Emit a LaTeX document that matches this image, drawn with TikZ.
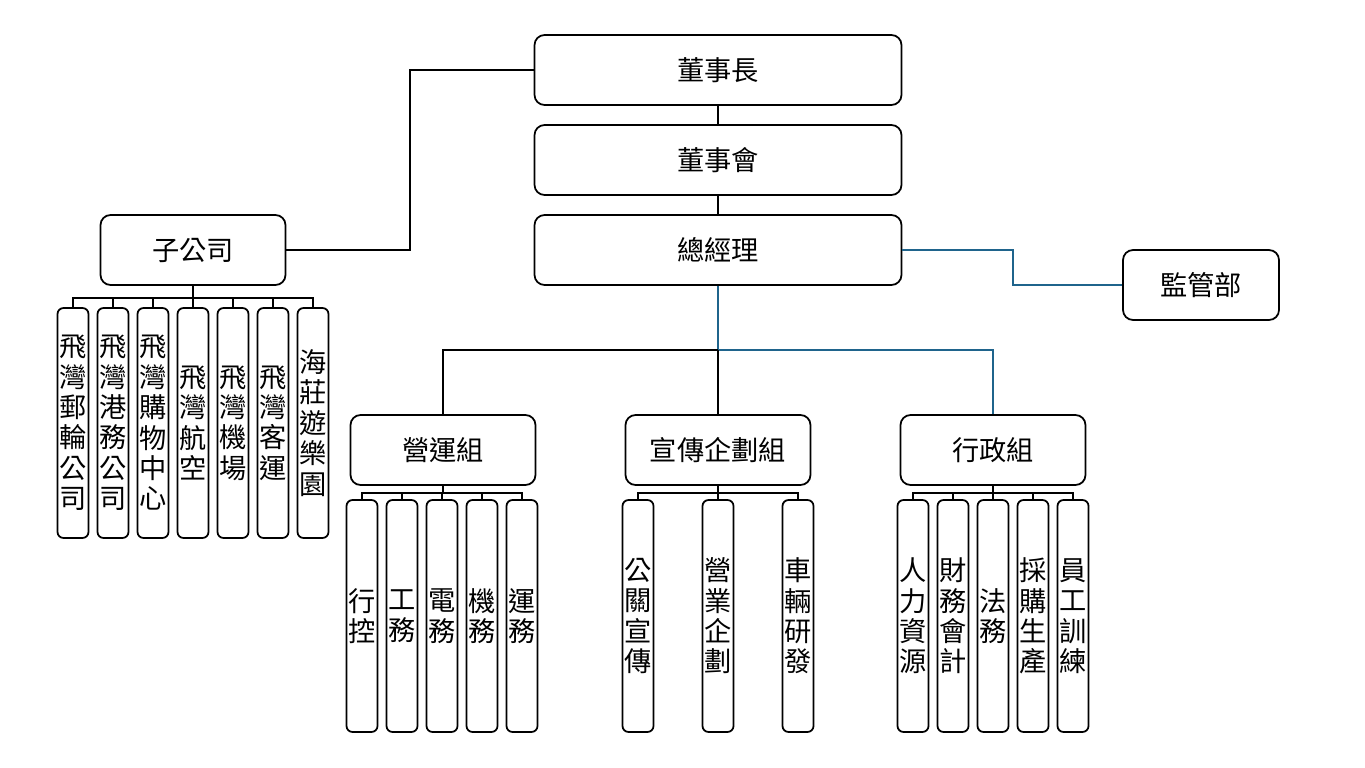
\documentclass[tikz,border=0pt]{standalone}
\usepackage{fontspec}
\setmainfont{Noto Sans CJK TC}
\usepackage{xcolor}
\definecolor{linkblue}{RGB}{31,100,140}

\begin{document}
\begin{tikzpicture}[x=0.02cm,y=-0.02cm,
  box/.style={draw,rounded corners=0.2cm,line width=1pt,minimum width=3.7cm,minimum height=1.4cm,inner sep=0pt,font=\fontsize{15.5}{17.5}\selectfont},
  big/.style={box,minimum width=7.34cm},
  col/.style={draw,rounded corners=0.12cm,line width=1pt,minimum width=0.62cm,minimum height=4.64cm,inner sep=0pt,align=center,font=\fontsize{15.5}{17.3}\selectfont},
  link/.style={line width=0.8pt},
  blink/.style={line width=0.8pt,draw=linkblue}]
\useasboundingbox (0,0) rectangle (1365,767);

\node[big] (A) at (718,70)  {董事長};
\node[big] (B) at (718,160) {董事會};
\node[big] (C) at (718,250) {總經理};
\node[box] (S) at (193,250) {子公司};
\node[box,minimum width=3.12cm] (M) at (1201,285) {監管部};
\node[box] (G1) at (443,450) {營運組};
\node[box] (G2) at (718,450) {宣傳企劃組};
\node[box] (G3) at (993,450) {行政組};

% subsidiaries
\node[col,minimum height=4.6cm] (s1) at (73,423)  {飛\\灣\\郵\\輪\\公\\司};
\node[col,minimum height=4.6cm] (s2) at (113,423) {飛\\灣\\港\\務\\公\\司};
\node[col,minimum height=4.6cm] (s3) at (153,423) {飛\\灣\\購\\物\\中\\心};
\node[col,minimum height=4.6cm] (s4) at (193,423) {飛\\灣\\航\\空};
\node[col,minimum height=4.6cm] (s5) at (233,423) {飛\\灣\\機\\場};
\node[col,minimum height=4.6cm] (s6) at (273,423) {飛\\灣\\客\\運};
\node[col,minimum height=4.6cm] (s7) at (313,423) {海\\莊\\遊\\樂\\園};

% operations
\node[col] (a1) at (362,616) {行\\控};
\node[col] (a2) at (402,616) {工\\務};
\node[col] (a3) at (442,616) {電\\務};
\node[col] (a4) at (482,616) {機\\務};
\node[col] (a5) at (522,616) {運\\務};

% promotion
\node[col] (b1) at (638,616) {公\\關\\宣\\傳};
\node[col] (b2) at (718,616) {營\\業\\企\\劃};
\node[col] (b3) at (798,616) {車\\輛\\研\\發};

% administration
\node[col] (c1) at (913,616)  {人\\力\\資\\源};
\node[col] (c2) at (953,616)  {財\\務\\會\\計};
\node[col] (c3) at (993,616)  {法\\務};
\node[col] (c4) at (1033,616) {採\\購\\生\\產};
\node[col] (c5) at (1073,616) {員\\工\\訓\\練};

\draw[link] (A) -- (B);
\draw[link] (B) -- (C);
\draw[link] (A.west) -- (410,70) |- (S.east);
\draw[blink] (C.east) -- (1013,250) |- (M.west);

\draw[blink] (C.south) -- (718,350) -| (G3.north);
\draw[link] (718,350) -- (G2.north);
\draw[link] (718,350) -| (G1.north);

\foreach \n in {s1,s2,s3,s4,s5,s6,s7}
  \draw[link] (S.south) -- ++(0,12) -| (\n.north);
\foreach \n in {a1,a2,a3,a4,a5}
  \draw[link] (G1.south) -- ++(0,7) -| (\n.north);
\foreach \n in {b1,b2,b3}
  \draw[link] (G2.south) -- ++(0,7) -| (\n.north);
\foreach \n in {c1,c2,c3,c4,c5}
  \draw[link] (G3.south) -- ++(0,7) -| (\n.north);
\end{tikzpicture}
\end{document}
